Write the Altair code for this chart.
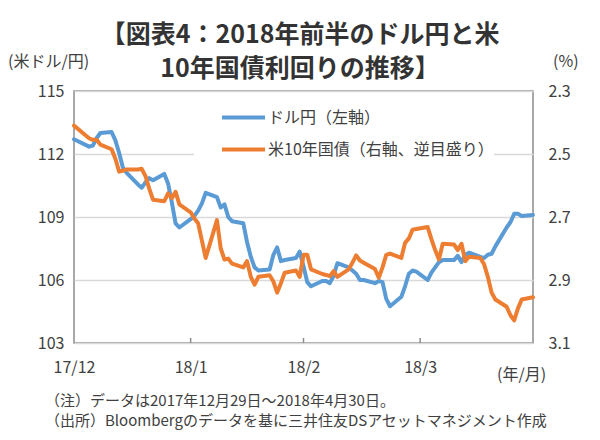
import altair as alt
import pandas as pd

# ---------------- data ----------------
dates = [
    "2017-12-29",
    "2018-01-02", "2018-01-03", "2018-01-04", "2018-01-05",
    "2018-01-08", "2018-01-09", "2018-01-10", "2018-01-11", "2018-01-12",
    "2018-01-15", "2018-01-16", "2018-01-17", "2018-01-18", "2018-01-19",
    "2018-01-22", "2018-01-23", "2018-01-24", "2018-01-25", "2018-01-26",
    "2018-01-29", "2018-01-30", "2018-01-31", "2018-02-01", "2018-02-02",
    "2018-02-05", "2018-02-06", "2018-02-07", "2018-02-08", "2018-02-09",
    "2018-02-12", "2018-02-13", "2018-02-14", "2018-02-15", "2018-02-16",
    "2018-02-19", "2018-02-20", "2018-02-21", "2018-02-22", "2018-02-23",
    "2018-02-26", "2018-02-27", "2018-02-28", "2018-03-01", "2018-03-02",
    "2018-03-05", "2018-03-06", "2018-03-07", "2018-03-08", "2018-03-09",
    "2018-03-12", "2018-03-13", "2018-03-14", "2018-03-15", "2018-03-16",
    "2018-03-19", "2018-03-20", "2018-03-21", "2018-03-22", "2018-03-23",
    "2018-03-26", "2018-03-27", "2018-03-28", "2018-03-29", "2018-03-30",
    "2018-04-02", "2018-04-03", "2018-04-04", "2018-04-05", "2018-04-06",
    "2018-04-09", "2018-04-10", "2018-04-11", "2018-04-12", "2018-04-13",
    "2018-04-16", "2018-04-17", "2018-04-18", "2018-04-19", "2018-04-20",
    "2018-04-23", "2018-04-24", "2018-04-25", "2018-04-26", "2018-04-27",
    "2018-04-30",
]

usdjpy = [
    112.70,
    112.35, 112.40, 112.75, 113.00,
    113.05, 112.65, 112.05, 111.35, 111.10,
    110.55, 110.40, 110.65, 110.85, 110.75,
    111.05, 110.60, 109.70, 108.70, 108.50,
    108.90, 109.05, 109.30, 109.65, 110.15,
    109.95, 109.45, 109.60, 109.00, 108.80,
    108.70, 107.80, 107.10, 106.60, 106.45,
    106.50, 107.20, 107.55, 106.90, 106.95,
    107.05, 107.35, 106.65, 105.90, 105.70,
    105.95, 105.95, 105.85, 106.20, 106.80,
    106.60, 106.45, 106.30, 106.00, 106.00,
    105.85, 105.95, 105.90, 105.10, 104.75,
    105.20, 105.70, 106.30, 106.45, 106.40,
    106.00, 106.35, 106.60, 106.85, 106.95,
    106.95, 107.15, 106.85, 107.20, 107.30,
    107.10, 107.05, 107.20, 107.25, 107.60,
    108.50, 108.75, 109.15, 109.15, 109.05,
    109.10,
]

ust10y = [
    2.410,
    2.450, 2.455, 2.455, 2.470,
    2.485, 2.515, 2.556, 2.553, 2.549,
    2.549, 2.547, 2.570, 2.610, 2.645,
    2.650, 2.625, 2.640, 2.620, 2.660,
    2.685, 2.705, 2.720, 2.775, 2.830,
    2.710, 2.800, 2.835, 2.832, 2.848,
    2.860, 2.840, 2.890, 2.915, 2.890,
    2.885, 2.905, 2.940, 2.910, 2.877,
    2.870, 2.890, 2.820, 2.820, 2.866,
    2.881, 2.884, 2.888, 2.872, 2.890,
    2.866, 2.845, 2.822, 2.838, 2.845,
    2.865, 2.893, 2.860, 2.820, 2.816,
    2.830, 2.782, 2.768, 2.740, 2.738,
    2.732, 2.770, 2.805, 2.835, 2.785,
    2.787, 2.805, 2.785, 2.840, 2.826,
    2.830, 2.850, 2.890, 2.940, 2.962,
    2.985, 3.012, 3.028, 2.990, 2.962,
    2.955,
]

series_names = ["ドル円（左軸）", "米10年国債（右軸、逆目盛り）"]
series_colors = ["#5B9BD5", "#ED7D31"]

start_date = "2017-12-29"
end_date = "2018-04-30"
tick_dates = ["2017-12-29", "2018-01-29", "2018-02-28", "2018-03-31"]
tick_labels = ["17/12", "18/1", "18/2", "18/3"]
inner_tick_dates = ["2018-01-29", "2018-02-28", "2018-03-31"]

left_ticks = [103, 106, 109, 112, 115]
right_ticks = [2.3, 2.5, 2.7, 2.9, 3.1]

title_lines = ["【図表4：2018年前半のドル円と米", "10年国債利回りの推移】"]
left_unit = "(米ドル/円)"
right_unit = "(%)"
x_unit = "(年/月)"
notes = [
    "（注）データは2017年12月29日～2018年4月30日。",
    "（出所）Bloombergのデータを基に三井住友DSアセットマネジメント作成",
]

# ---------------- build ----------------
t0 = pd.Timestamp(start_date)
def day_of(d):
    return int((pd.Timestamp(d) - t0).days)

df = pd.DataFrame({"date": dates, "usdjpy": usdjpy, "ust10y": ust10y})
df["day"] = [day_of(d) for d in dates]
end_day = day_of(end_date)
tick_days = [day_of(d) for d in tick_dates]
inner_days = pd.DataFrame({"day": [day_of(d) for d in inner_tick_dates]})

W, H = 459, 252
FONT = "Noto Sans CJK JP"
TXT = "#404040"
GRID = "#D9D9D9"
BORDER = "#8C8C8C"

label_expr = "[" + ",".join(f"'{l}'" for l in tick_labels) + "][indexof([" + \
    ",".join(str(d) for d in tick_days) + "], datum.value)]"

x_enc = alt.X(
    "day:Q",
    scale=alt.Scale(domain=[0, end_day], nice=False, zero=False),
    axis=alt.Axis(
        values=tick_days, labelExpr=label_expr, title=None, grid=False,
        ticks=False, domain=False, labelFont=FONT, labelFontSize=16,
        labelColor=TXT, labelPadding=16, labelFlush=False,
    ),
)

color_scale = alt.Scale(domain=series_names, range=series_colors)
legend = alt.Legend(
    orient="none", legendX=120, legendY=3, direction="vertical", title=None,
    symbolType="stroke", symbolSize=1849, symbolStrokeWidth=4,
    symbolOffset=26, labelOffset=1, padding=0, rowPadding=-18,
    labelFont=FONT, labelFontSize=16, labelColor=TXT, labelLimit=500,
    fillColor="white",
)

base = alt.Chart(df)

blue = base.transform_calculate(series=f"'{series_names[0]}'").mark_line(
    strokeWidth=4, strokeJoin="round", strokeCap="round"
).encode(
    x=x_enc,
    y=alt.Y(
        "usdjpy:Q",
        scale=alt.Scale(domain=[left_ticks[0], left_ticks[-1]], nice=False, zero=False),
        axis=alt.Axis(
            orient="left", values=left_ticks, title=None, grid=True,
            gridColor=GRID, gridWidth=1.3, domain=False, ticks=False,
            labelFont=FONT, labelFontSize=16, labelColor=TXT, labelPadding=10,
        ),
    ),
    color=alt.Color("series:N", scale=color_scale, legend=legend),
)

orange = base.transform_calculate(series=f"'{series_names[1]}'").mark_line(
    strokeWidth=4, strokeJoin="round", strokeCap="round"
).encode(
    x=x_enc,
    y=alt.Y(
        "ust10y:Q",
        scale=alt.Scale(domain=[right_ticks[0], right_ticks[-1]], reverse=True,
                        nice=False, zero=False),
        axis=alt.Axis(
            orient="right", values=right_ticks, format=".1f", title=None,
            grid=False, domain=False, ticks=False, labelFont=FONT,
            labelFontSize=16, labelColor=TXT, labelPadding=15,
        ),
    ),
    color=alt.Color("series:N", scale=color_scale, legend=legend),
)

xticks = alt.Chart(inner_days).mark_rule(color=BORDER, strokeWidth=1.5).encode(
    x=alt.X("day:Q"),
    y=alt.value(H - 5),
    y2=alt.value(H),
)

def text_layer(txt, x, y, size=16, weight="normal", align="left", color=TXT):
    return alt.Chart(alt.Data(values=[{"k": 1}])).mark_text(
        font=FONT, fontSize=size, fontWeight=weight, align=align,
        baseline="middle", color=color,
    ).encode(x=alt.value(x), y=alt.value(y), text=alt.value(txt))

texts = [
    text_layer(title_lines[0], 226, -56, size=25, weight="bold", align="center", color="#333333"),
    text_layer(title_lines[1], 226, -22, size=25, weight="bold", align="center", color="#333333"),
    text_layer(left_unit, -66, -29),
    text_layer(right_unit, 479, -29),
    text_layer(x_unit, 423, 284),
    text_layer(notes[0], -29, 310, size=15),
    text_layer(notes[1], -29, 330, size=15),
]

chart = alt.layer(blue, orange, xticks, *texts).resolve_scale(
    y="independent"
).properties(
    width=W, height=H,
    padding={"left": 66, "top": 83, "right": 51, "bottom": 89},
    autosize=alt.AutoSizeParams(type="none"),
).configure_view(
    stroke=BORDER, strokeWidth=1.5
)

chart.save("out.html", embed_options={"renderer": "svg", "actions": False})
